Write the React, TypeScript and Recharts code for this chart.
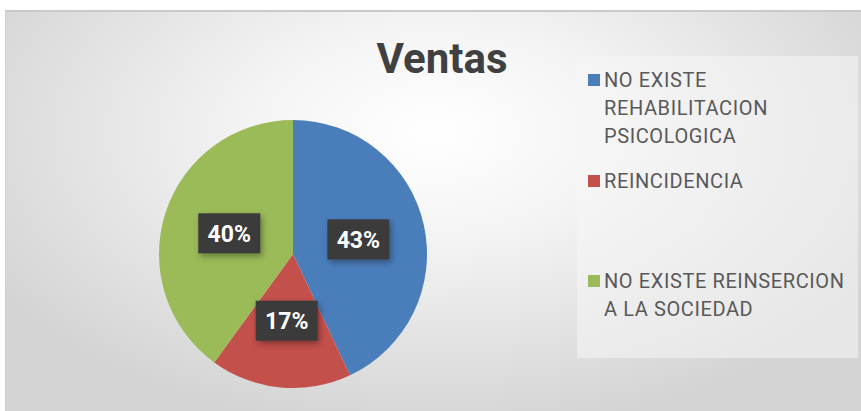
import React from "react";
import { PieChart, Pie, Cell, Legend } from "recharts";

const categories = [
  "NO EXISTE\nREHABILITACION\nPSICOLOGICA",
  "REINCIDENCIA",
  "NO EXISTE REINSERCION\nA LA SOCIEDAD",
];
const values = [43, 17, 40];
const colors = ["#4a7ebb", "#c4504c", "#9bbb59"];

const data = categories.map((name, i) => ({ name, value: values[i] }));

const RADIAN = Math.PI / 180;

function PercentLabel(props: any) {
  const { cx, cy, midAngle, outerRadius, value } = props;
  const r = outerRadius * 0.5;
  const x = cx + r * Math.cos(-midAngle * RADIAN);
  const y = cy + r * Math.sin(-midAngle * RADIAN);
  return (
    <g>
      <rect
        x={x - 31}
        y={y - 20}
        width={62}
        height={40}
        fill="#3b3b3b"
        style={{ filter: "drop-shadow(2px 3px 3px rgba(0,0,0,0.35))" }}
      />
      <text
        x={x}
        y={y + 1}
        textAnchor="middle"
        dominantBaseline="central"
        fill="#ffffff"
        fontFamily="Roboto, sans-serif"
        fontWeight={700}
        fontSize={23}
      >
        {value}%
      </text>
    </g>
  );
}

function LegendBox(props: any) {
  const items = [...(props.payload || [])].sort(
    (a: any, b: any) => categories.indexOf(a.value) - categories.indexOf(b.value)
  );
  return (
    <div
      style={{
        width: 281,
        height: 302,
        background: "rgba(246,246,246,0.55)",
        boxSizing: "border-box",
      }}
    >
      {items.map((entry: any) => (
        <div
          key={entry.value}
          style={{
            height: 302 / 3,
            boxSizing: "border-box",
            paddingTop: 10,
            paddingLeft: 27,
            position: "relative",
          }}
        >
          <span
            style={{
              position: "absolute",
              left: 11,
              top: 18,
              width: 12,
              height: 12,
              background: entry.color,
            }}
          />
          <div
            style={{
              whiteSpace: "pre-line",
              fontFamily: "Roboto, sans-serif",
              fontSize: 20,
              letterSpacing: 0.6,
              lineHeight: "28px",
              color: "#595959",
            }}
          >
            {entry.value}
          </div>
        </div>
      ))}
    </div>
  );
}

export default function App() {
  return (
    <div
      style={{
        position: "absolute",
        left: 0,
        top: 0,
        width: 861,
        height: 411,
        background: "#ffffff",
        overflow: "hidden",
      }}
    >
      <style>{`.recharts-pie-sectors { filter: drop-shadow(3px 4px 5px rgba(0,0,0,0.28)); }`}</style>
      <div
        style={{
          position: "absolute",
          left: 5,
          top: 10,
          width: 856,
          height: 401,
          borderTop: "2px solid #c9c9c9",
          borderLeft: "1px solid #d0d0d0",
          boxSizing: "border-box",
          background:
            "radial-gradient(ellipse 60% 75% at 50% 30%, #ffffff 0%, #f4f4f4 35%, #d4d4d4 100%)",
        }}
      />
      <div
        style={{
          position: "absolute",
          left: 342,
          top: 34,
          width: 200,
          textAlign: "center",
          fontFamily: "Roboto, sans-serif",
          fontWeight: 700,
          fontSize: 42,
          color: "#404040",
        }}
      >
        Ventas
      </div>
      <div style={{ position: "absolute", left: 0, top: 0 }}>
        <PieChart width={861} height={411} margin={{ top: 0, right: 0, bottom: 0, left: 0 }}>
          <Pie
            data={data}
            dataKey="value"
            nameKey="name"
            cx={293}
            cy={254}
            outerRadius={134}
            startAngle={90}
            endAngle={-270}
            stroke="none"
            label={PercentLabel}
            labelLine={false}
            isAnimationActive={false}
          >
            {data.map((d, i) => (
              <Cell key={d.name} fill={colors[i]} />
            ))}
          </Pie>
          <Legend
            layout="vertical"
            align="right"
            verticalAlign="top"
            content={<LegendBox />}
            wrapperStyle={{ position: "absolute", left: 577, top: 56, width: 281, height: 302 }}
          />
        </PieChart>
      </div>
    </div>
  );
}
